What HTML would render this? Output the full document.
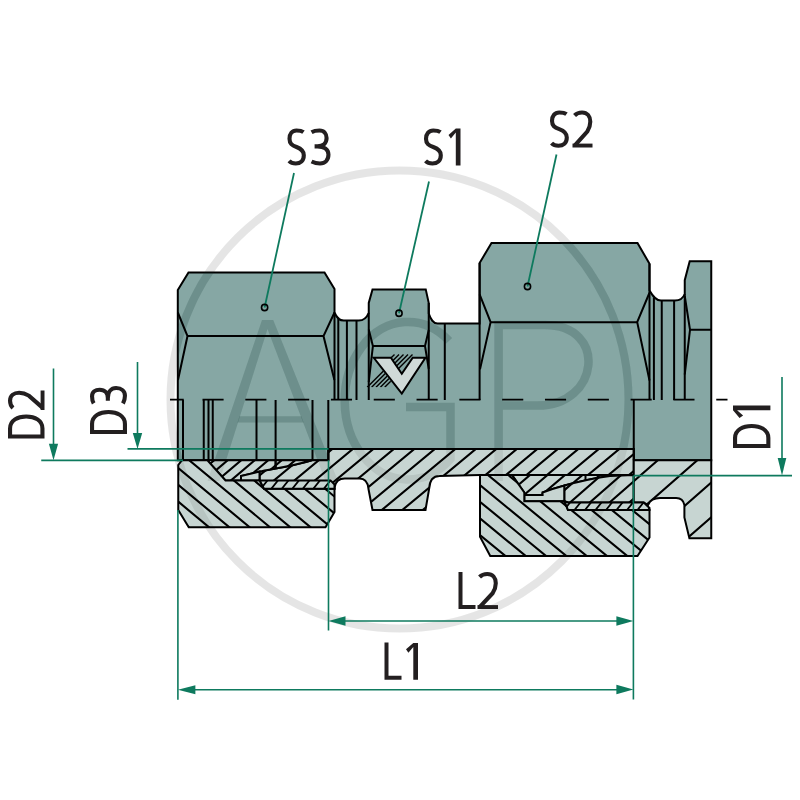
<!DOCTYPE html><html><head><meta charset="utf-8"><style>html,body{margin:0;padding:0;background:#fff;overflow:hidden;}svg{display:block}</style></head><body>
<svg width="800" height="800" viewBox="0 0 800 800">
<rect width="800" height="800" fill="#fff"/>
<path d="M177.8,460.2 L177.8,290 L188.5,272.5 L324.5,272.5 L334.5,289 L334.5,312.5 C337,318.5 339.5,320.6 343.75,320.6 L358.75,320.6 C363.5,320.6 366.5,318.5 368.75,312.9 L368.75,303 L372.5,289.4 L425.75,289.4 L428.75,303 L428.75,313.5 C431,320 433,323.5 437.5,323.5 L479.6,323.5 L479.6,263 L491.5,243 L637.5,243 L649.5,263.75 L649.5,290.5 C653,296.5 656,300.6 661,300.6 L675,300.6 C680,300.6 683,298.5 684.75,294 L684.75,280.2 L689.7,261.2 L711.25,261.2 L711.25,460.25 L633.75,460.25 L633.75,449 L328.5,449 L328.5,460.2 Z" fill="#86a7a4" stroke="#000" stroke-width="2.0" stroke-linejoin="miter"/>
<defs><clipPath id="tealclip"><path d="M177.8,460.2 L177.8,290 L188.5,272.5 L324.5,272.5 L334.5,289 L334.5,312.5 C337,318.5 339.5,320.6 343.75,320.6 L358.75,320.6 C363.5,320.6 366.5,318.5 368.75,312.9 L368.75,303 L372.5,289.4 L425.75,289.4 L428.75,303 L428.75,313.5 C431,320 433,323.5 437.5,323.5 L479.6,323.5 L479.6,263 L491.5,243 L637.5,243 L649.5,263.75 L649.5,290.5 C653,296.5 656,300.6 661,300.6 L675,300.6 C680,300.6 683,298.5 684.75,294 L684.75,280.2 L689.7,261.2 L711.25,261.2 L711.25,460.25 L633.75,460.25 L633.75,449 L328.5,449 L328.5,460.2 Z"/></clipPath></defs>
<g color="rgba(0,0,0,0.10)"><circle cx="399.5" cy="399.5" r="229" fill="none" stroke="currentColor" stroke-width="8"/><polygon fill="currentColor" points="262,320 273.2,320 338,481 325.5,481 267.5,329 219.5,481 207.5,481"/><polygon fill="currentColor" points="239.43,416.25 301.33,416.25 303.68,422.40 237.49,422.40"/><path fill="none" stroke="currentColor" stroke-width="8.5" d="M449,340.8 A63.25,78.75 0 1 0 450.5,459 L450.5,406.9 L406,406.9"/><path fill="none" stroke="currentColor" stroke-width="8.5" d="M498.6,481 L498.6,325 L545,325 C608,325 600,405.6 537.5,405.6 L498.6,405.6"/></g>
<g clip-path="url(#tealclip)" color="rgba(32,98,93,0.12)"><circle cx="399.5" cy="399.5" r="229" fill="none" stroke="currentColor" stroke-width="8"/><polygon fill="currentColor" points="262,320 273.2,320 338,481 325.5,481 267.5,329 219.5,481 207.5,481"/><polygon fill="currentColor" points="239.43,416.25 301.33,416.25 303.68,422.40 237.49,422.40"/><path fill="none" stroke="currentColor" stroke-width="8.5" d="M449,340.8 A63.25,78.75 0 1 0 450.5,459 L450.5,406.9 L406,406.9"/><path fill="none" stroke="currentColor" stroke-width="8.5" d="M498.6,481 L498.6,325 L545,325 C608,325 600,405.6 537.5,405.6 L498.6,405.6"/></g>
<clipPath id="c1"><path d="M259.5,471.6 C275,468.5 295,465.5 312,460.2 L328.5,460.2 L328.5,449 L633.75,449 L633.75,475 L480,475 L439.4,476.1 Q430,476.1 429.2,488.5 L425.5,510 L372.5,510 L368.4,488.5 Q367.5,478.4 359.4,478.4 L344.75,478.4 Q336,478.4 334.5,487.5 L334.5,488.75 L264,488.75 L259.7,480.4 Z"/></clipPath>
<path d="M259.5,471.6 C275,468.5 295,465.5 312,460.2 L328.5,460.2 L328.5,449 L633.75,449 L633.75,475 L480,475 L439.4,476.1 Q430,476.1 429.2,488.5 L425.5,510 L372.5,510 L368.4,488.5 Q367.5,478.4 359.4,478.4 L344.75,478.4 Q336,478.4 334.5,487.5 L334.5,488.75 L264,488.75 L259.7,480.4 Z" fill="#c7d5d2"/>
<g clip-path="url(#c1)" color="rgba(0,0,0,0.075)"><circle cx="399.5" cy="399.5" r="229" fill="none" stroke="currentColor" stroke-width="8"/><polygon fill="currentColor" points="262,320 273.2,320 338,481 325.5,481 267.5,329 219.5,481 207.5,481"/><polygon fill="currentColor" points="239.43,416.25 301.33,416.25 303.68,422.40 237.49,422.40"/><path fill="none" stroke="currentColor" stroke-width="8.5" d="M449,340.8 A63.25,78.75 0 1 0 450.5,459 L450.5,406.9 L406,406.9"/><path fill="none" stroke="currentColor" stroke-width="8.5" d="M498.6,481 L498.6,325 L545,325 C608,325 600,405.6 537.5,405.6 L498.6,405.6"/></g>
<path clip-path="url(#c1)" d="M118.54,150 L-604.35,750 M139.04,150 L-583.85,750 M159.54,150 L-563.35,750 M180.04,150 L-542.85,750 M200.54,150 L-522.35,750 M221.04,150 L-501.85,750 M241.54,150 L-481.35,750 M262.04,150 L-460.85,750 M282.54,150 L-440.35,750 M303.04,150 L-419.85,750 M323.54,150 L-399.35,750 M344.04,150 L-378.85,750 M364.54,150 L-358.35,750 M385.04,150 L-337.85,750 M405.54,150 L-317.35,750 M426.04,150 L-296.85,750 M446.54,150 L-276.35,750 M467.04,150 L-255.85,750 M487.54,150 L-235.35,750 M508.04,150 L-214.85,750 M528.54,150 L-194.35,750 M549.04,150 L-173.85,750 M569.54,150 L-153.35,750 M590.04,150 L-132.85,750 M610.54,150 L-112.35,750 M631.04,150 L-91.85,750 M651.54,150 L-71.35,750 M672.04,150 L-50.85,750 M692.54,150 L-30.35,750 M713.04,150 L-9.85,750 M733.54,150 L10.65,750 M754.04,150 L31.15,750 M774.54,150 L51.65,750 M795.04,150 L72.15,750 M815.54,150 L92.65,750 M836.04,150 L113.15,750 M856.54,150 L133.65,750 M877.04,150 L154.15,750 M897.54,150 L174.65,750 M918.04,150 L195.15,750 M938.54,150 L215.65,750 M959.04,150 L236.15,750 M979.54,150 L256.65,750 M1000.04,150 L277.15,750 M1020.54,150 L297.65,750 M1041.04,150 L318.15,750 M1061.54,150 L338.65,750 M1082.04,150 L359.15,750 M1102.54,150 L379.65,750 M1123.04,150 L400.15,750 M1143.54,150 L420.65,750 M1164.04,150 L441.15,750 M1184.54,150 L461.65,750 M1205.04,150 L482.15,750 M1225.54,150 L502.65,750 M1246.04,150 L523.15,750 M1266.54,150 L543.65,750 M1287.04,150 L564.15,750 M1307.54,150 L584.65,750 M1328.04,150 L605.15,750 M1348.54,150 L625.65,750 M1369.04,150 L646.15,750 M1389.54,150 L666.65,750 M1410.04,150 L687.15,750 M1430.54,150 L707.65,750 M1451.04,150 L728.15,750 M1471.54,150 L748.65,750 M1492.04,150 L769.15,750 M1512.54,150 L789.65,750" stroke="#000" stroke-width="2.1" fill="none"/>
<path d="M259.5,471.6 C275,468.5 295,465.5 312,460.2 L328.5,460.2 L328.5,449 L633.75,449 L633.75,475 L480,475 L439.4,476.1 Q430,476.1 429.2,488.5 L425.5,510 L372.5,510 L368.4,488.5 Q367.5,478.4 359.4,478.4 L344.75,478.4 Q336,478.4 334.5,487.5 L334.5,488.75 L264,488.75 L259.7,480.4 Z" fill="none" stroke="#000" stroke-width="2.0" stroke-linejoin="miter"/>
<clipPath id="c2"><path d="M207.2,460.2 L312,460.2 C295,465.5 275,468.5 259.5,471.6 L241,476 L241,480.4 L225.5,480.4 Z"/></clipPath>
<path d="M207.2,460.2 L312,460.2 C295,465.5 275,468.5 259.5,471.6 L241,476 L241,480.4 L225.5,480.4 Z" fill="#c7d5d2"/>
<g clip-path="url(#c2)" color="rgba(0,0,0,0.075)"><circle cx="399.5" cy="399.5" r="229" fill="none" stroke="currentColor" stroke-width="8"/><polygon fill="currentColor" points="262,320 273.2,320 338,481 325.5,481 267.5,329 219.5,481 207.5,481"/><polygon fill="currentColor" points="239.43,416.25 301.33,416.25 303.68,422.40 237.49,422.40"/><path fill="none" stroke="currentColor" stroke-width="8.5" d="M449,340.8 A63.25,78.75 0 1 0 450.5,459 L450.5,406.9 L406,406.9"/><path fill="none" stroke="currentColor" stroke-width="8.5" d="M498.6,481 L498.6,325 L545,325 C608,325 600,405.6 537.5,405.6 L498.6,405.6"/></g>
<path clip-path="url(#c2)" d="M106.69,150 L-599.19,750 M120.19,150 L-585.69,750 M133.69,150 L-572.19,750 M147.19,150 L-558.69,750 M160.69,150 L-545.19,750 M174.19,150 L-531.69,750 M187.69,150 L-518.19,750 M201.19,150 L-504.69,750 M214.69,150 L-491.19,750 M228.19,150 L-477.69,750 M241.69,150 L-464.19,750 M255.19,150 L-450.69,750 M268.69,150 L-437.19,750 M282.19,150 L-423.69,750 M295.69,150 L-410.19,750 M309.19,150 L-396.69,750 M322.69,150 L-383.19,750 M336.19,150 L-369.69,750 M349.69,150 L-356.19,750 M363.19,150 L-342.69,750 M376.69,150 L-329.19,750 M390.19,150 L-315.69,750 M403.69,150 L-302.19,750 M417.19,150 L-288.69,750 M430.69,150 L-275.19,750 M444.19,150 L-261.69,750 M457.69,150 L-248.19,750 M471.19,150 L-234.69,750 M484.69,150 L-221.19,750 M498.19,150 L-207.69,750 M511.69,150 L-194.19,750 M525.19,150 L-180.69,750 M538.69,150 L-167.19,750 M552.19,150 L-153.69,750 M565.69,150 L-140.19,750 M579.19,150 L-126.69,750 M592.69,150 L-113.19,750 M606.19,150 L-99.69,750 M619.69,150 L-86.19,750 M633.19,150 L-72.69,750 M646.69,150 L-59.19,750 M660.19,150 L-45.69,750 M673.69,150 L-32.19,750 M687.19,150 L-18.69,750 M700.69,150 L-5.19,750 M714.19,150 L8.31,750 M727.69,150 L21.81,750 M741.19,150 L35.31,750 M754.69,150 L48.81,750 M768.19,150 L62.31,750 M781.69,150 L75.81,750 M795.19,150 L89.31,750 M808.69,150 L102.81,750 M822.19,150 L116.31,750 M835.69,150 L129.81,750 M849.19,150 L143.31,750 M862.69,150 L156.81,750 M876.19,150 L170.31,750 M889.69,150 L183.81,750 M903.19,150 L197.31,750 M916.69,150 L210.81,750 M930.19,150 L224.31,750 M943.69,150 L237.81,750 M957.19,150 L251.31,750 M970.69,150 L264.81,750 M984.19,150 L278.31,750 M997.69,150 L291.81,750 M1011.19,150 L305.31,750 M1024.69,150 L318.81,750 M1038.19,150 L332.31,750 M1051.69,150 L345.81,750 M1065.19,150 L359.31,750 M1078.69,150 L372.81,750 M1092.19,150 L386.31,750 M1105.69,150 L399.81,750 M1119.19,150 L413.31,750 M1132.69,150 L426.81,750 M1146.19,150 L440.31,750 M1159.69,150 L453.81,750 M1173.19,150 L467.31,750 M1186.69,150 L480.81,750 M1200.19,150 L494.31,750 M1213.69,150 L507.81,750 M1227.19,150 L521.31,750 M1240.69,150 L534.81,750 M1254.19,150 L548.31,750 M1267.69,150 L561.81,750 M1281.19,150 L575.31,750 M1294.69,150 L588.81,750 M1308.19,150 L602.31,750 M1321.69,150 L615.81,750 M1335.19,150 L629.31,750 M1348.69,150 L642.81,750 M1362.19,150 L656.31,750 M1375.69,150 L669.81,750 M1389.19,150 L683.31,750" stroke="#000" stroke-width="2.1" fill="none"/>
<path d="M207.2,460.2 L312,460.2 C295,465.5 275,468.5 259.5,471.6 L241,476 L241,480.4 L225.5,480.4 Z" fill="none" stroke="#000" stroke-width="2.0" stroke-linejoin="miter"/>
<clipPath id="cl2"><path d="M241,476 L259.5,471.6 L259.5,480.4 L241,480.4 Z"/></clipPath><path d="M241,476 L259.5,471.6 L259.5,480.4 L241,480.4 Z" fill="#c7d5d2"/><g clip-path="url(#cl2)" color="rgba(0,0,0,0.075)"><circle cx="399.5" cy="399.5" r="229" fill="none" stroke="currentColor" stroke-width="8"/><polygon fill="currentColor" points="262,320 273.2,320 338,481 325.5,481 267.5,329 219.5,481 207.5,481"/><polygon fill="currentColor" points="239.43,416.25 301.33,416.25 303.68,422.40 237.49,422.40"/><path fill="none" stroke="currentColor" stroke-width="8.5" d="M449,340.8 A63.25,78.75 0 1 0 450.5,459 L450.5,406.9 L406,406.9"/><path fill="none" stroke="currentColor" stroke-width="8.5" d="M498.6,481 L498.6,325 L545,325 C608,325 600,405.6 537.5,405.6 L498.6,405.6"/></g><path d="M241,476 L259.5,471.6 L259.5,480.4 L241,480.4 Z" fill="none" stroke="#000" stroke-width="2.0"/>
<clipPath id="c3"><path d="M182,460.2 L178.25,465 L178.25,510 L188.75,527.2 L325.5,527.2 L334.5,512 L334.5,488.75 L264,488.75 L259.7,480.4 L225.5,480.4 L207.2,460.2 Z"/></clipPath>
<path d="M182,460.2 L178.25,465 L178.25,510 L188.75,527.2 L325.5,527.2 L334.5,512 L334.5,488.75 L264,488.75 L259.7,480.4 L225.5,480.4 L207.2,460.2 Z" fill="#c7d5d2"/>
<g clip-path="url(#c3)" color="rgba(0,0,0,0.075)"><circle cx="399.5" cy="399.5" r="229" fill="none" stroke="currentColor" stroke-width="8"/><polygon fill="currentColor" points="262,320 273.2,320 338,481 325.5,481 267.5,329 219.5,481 207.5,481"/><polygon fill="currentColor" points="239.43,416.25 301.33,416.25 303.68,422.40 237.49,422.40"/><path fill="none" stroke="currentColor" stroke-width="8.5" d="M449,340.8 A63.25,78.75 0 1 0 450.5,459 L450.5,406.9 L406,406.9"/><path fill="none" stroke="currentColor" stroke-width="8.5" d="M498.6,481 L498.6,325 L545,325 C608,325 600,405.6 537.5,405.6 L498.6,405.6"/></g>
<path clip-path="url(#c3)" d="M-610.86,150 L112.03,750 M-590.56,150 L132.33,750 M-570.26,150 L152.63,750 M-549.96,150 L172.93,750 M-529.66,150 L193.23,750 M-509.36,150 L213.53,750 M-489.06,150 L233.83,750 M-468.76,150 L254.13,750 M-448.46,150 L274.43,750 M-428.16,150 L294.73,750 M-407.86,150 L315.03,750 M-387.56,150 L335.33,750 M-367.26,150 L355.63,750 M-346.96,150 L375.93,750 M-326.66,150 L396.23,750 M-306.36,150 L416.53,750 M-286.06,150 L436.83,750 M-265.76,150 L457.13,750 M-245.46,150 L477.43,750 M-225.16,150 L497.73,750 M-204.86,150 L518.03,750 M-184.56,150 L538.33,750 M-164.26,150 L558.63,750 M-143.96,150 L578.93,750 M-123.66,150 L599.23,750 M-103.36,150 L619.53,750 M-83.06,150 L639.83,750 M-62.76,150 L660.13,750 M-42.46,150 L680.43,750 M-22.16,150 L700.73,750 M-1.86,150 L721.03,750 M18.44,150 L741.33,750 M38.74,150 L761.63,750 M59.04,150 L781.93,750 M79.34,150 L802.23,750 M99.64,150 L822.53,750 M119.94,150 L842.83,750 M140.24,150 L863.13,750 M160.54,150 L883.43,750 M180.84,150 L903.73,750 M201.14,150 L924.03,750 M221.44,150 L944.33,750 M241.74,150 L964.63,750 M262.04,150 L984.93,750 M282.34,150 L1005.23,750 M302.64,150 L1025.53,750 M322.94,150 L1045.83,750 M343.24,150 L1066.13,750 M363.54,150 L1086.43,750 M383.84,150 L1106.73,750 M404.14,150 L1127.03,750 M424.44,150 L1147.33,750 M444.74,150 L1167.63,750 M465.04,150 L1187.93,750 M485.34,150 L1208.23,750 M505.64,150 L1228.53,750 M525.94,150 L1248.83,750 M546.24,150 L1269.13,750 M566.54,150 L1289.43,750 M586.84,150 L1309.73,750 M607.14,150 L1330.03,750 M627.44,150 L1350.33,750 M647.74,150 L1370.63,750 M668.04,150 L1390.93,750 M688.34,150 L1411.23,750 M708.64,150 L1431.53,750 M728.94,150 L1451.83,750 M749.24,150 L1472.13,750 M769.54,150 L1492.43,750 M789.84,150 L1512.73,750" stroke="#000" stroke-width="2.1" fill="none"/>
<path d="M182,460.2 L178.25,465 L178.25,510 L188.75,527.2 L325.5,527.2 L334.5,512 L334.5,488.75 L264,488.75 L259.7,480.4 L225.5,480.4 L207.2,460.2 Z" fill="none" stroke="#000" stroke-width="2.0" stroke-linejoin="miter"/>
<clipPath id="c4"><path d="M259.7,480.4 L330.5,480.4 L334.5,484.5 L334.5,488.75 L264,488.75 Z"/></clipPath>
<path d="M259.7,480.4 L330.5,480.4 L334.5,484.5 L334.5,488.75 L264,488.75 Z" fill="#c7d5d2"/>
<g clip-path="url(#c4)" color="rgba(0,0,0,0.075)"><circle cx="399.5" cy="399.5" r="229" fill="none" stroke="currentColor" stroke-width="8"/><polygon fill="currentColor" points="262,320 273.2,320 338,481 325.5,481 267.5,329 219.5,481 207.5,481"/><polygon fill="currentColor" points="239.43,416.25 301.33,416.25 303.68,422.40 237.49,422.40"/><path fill="none" stroke="currentColor" stroke-width="8.5" d="M449,340.8 A63.25,78.75 0 1 0 450.5,459 L450.5,406.9 L406,406.9"/><path fill="none" stroke="currentColor" stroke-width="8.5" d="M498.6,481 L498.6,325 L545,325 C608,325 600,405.6 537.5,405.6 L498.6,405.6"/></g>
<path clip-path="url(#c4)" d="M101.32,150 L-378.68,750 M111.82,150 L-368.18,750 M122.32,150 L-357.68,750 M132.82,150 L-347.18,750 M143.32,150 L-336.68,750 M153.82,150 L-326.18,750 M164.32,150 L-315.68,750 M174.82,150 L-305.18,750 M185.32,150 L-294.68,750 M195.82,150 L-284.18,750 M206.32,150 L-273.68,750 M216.82,150 L-263.18,750 M227.32,150 L-252.68,750 M237.82,150 L-242.18,750 M248.32,150 L-231.68,750 M258.82,150 L-221.18,750 M269.32,150 L-210.68,750 M279.82,150 L-200.18,750 M290.32,150 L-189.68,750 M300.82,150 L-179.18,750 M311.32,150 L-168.68,750 M321.82,150 L-158.18,750 M332.32,150 L-147.68,750 M342.82,150 L-137.18,750 M353.32,150 L-126.68,750 M363.82,150 L-116.18,750 M374.32,150 L-105.68,750 M384.82,150 L-95.18,750 M395.32,150 L-84.68,750 M405.82,150 L-74.18,750 M416.32,150 L-63.68,750 M426.82,150 L-53.18,750 M437.32,150 L-42.68,750 M447.82,150 L-32.18,750 M458.32,150 L-21.68,750 M468.82,150 L-11.18,750 M479.32,150 L-0.68,750 M489.82,150 L9.82,750 M500.32,150 L20.32,750 M510.82,150 L30.82,750 M521.32,150 L41.32,750 M531.82,150 L51.82,750 M542.32,150 L62.32,750 M552.82,150 L72.82,750 M563.32,150 L83.32,750 M573.82,150 L93.82,750 M584.32,150 L104.32,750 M594.82,150 L114.82,750 M605.32,150 L125.32,750 M615.82,150 L135.82,750 M626.32,150 L146.32,750 M636.82,150 L156.82,750 M647.32,150 L167.32,750 M657.82,150 L177.82,750 M668.32,150 L188.32,750 M678.82,150 L198.82,750 M689.32,150 L209.32,750 M699.82,150 L219.82,750 M710.32,150 L230.32,750 M720.82,150 L240.82,750 M731.32,150 L251.32,750 M741.82,150 L261.82,750 M752.32,150 L272.32,750 M762.82,150 L282.82,750 M773.32,150 L293.32,750 M783.82,150 L303.82,750 M794.32,150 L314.32,750 M804.82,150 L324.82,750 M815.32,150 L335.32,750 M825.82,150 L345.82,750 M836.32,150 L356.32,750 M846.82,150 L366.82,750 M857.32,150 L377.32,750 M867.82,150 L387.82,750 M878.32,150 L398.32,750 M888.82,150 L408.82,750 M899.32,150 L419.32,750 M909.82,150 L429.82,750 M920.32,150 L440.32,750 M930.82,150 L450.82,750 M941.32,150 L461.32,750 M951.82,150 L471.82,750 M962.32,150 L482.32,750 M972.82,150 L492.82,750 M983.32,150 L503.32,750 M993.82,150 L513.82,750 M1004.32,150 L524.32,750 M1014.82,150 L534.82,750 M1025.32,150 L545.32,750 M1035.82,150 L555.82,750 M1046.32,150 L566.32,750 M1056.82,150 L576.82,750 M1067.32,150 L587.32,750 M1077.82,150 L597.82,750 M1088.32,150 L608.32,750 M1098.82,150 L618.82,750 M1109.32,150 L629.32,750 M1119.82,150 L639.82,750 M1130.32,150 L650.32,750 M1140.82,150 L660.82,750" stroke="#000" stroke-width="1.8" fill="none"/>
<path d="M259.7,480.4 L330.5,480.4 L334.5,484.5 L334.5,488.75 L264,488.75 Z" fill="none" stroke="#000" stroke-width="2.0" stroke-linejoin="miter"/>
<clipPath id="c5"><path d="M512,475 L633.75,475 L610,475.9 C595,478 580,481 564.5,485.5 C555,488 548,490.5 542.6,492.5 L542.6,495.1 L524.3,495.1 L524.3,492.5 Z"/></clipPath>
<path d="M512,475 L633.75,475 L610,475.9 C595,478 580,481 564.5,485.5 C555,488 548,490.5 542.6,492.5 L542.6,495.1 L524.3,495.1 L524.3,492.5 Z" fill="#c7d5d2"/>
<g clip-path="url(#c5)" color="rgba(0,0,0,0.075)"><circle cx="399.5" cy="399.5" r="229" fill="none" stroke="currentColor" stroke-width="8"/><polygon fill="currentColor" points="262,320 273.2,320 338,481 325.5,481 267.5,329 219.5,481 207.5,481"/><polygon fill="currentColor" points="239.43,416.25 301.33,416.25 303.68,422.40 237.49,422.40"/><path fill="none" stroke="currentColor" stroke-width="8.5" d="M449,340.8 A63.25,78.75 0 1 0 450.5,459 L450.5,406.9 L406,406.9"/><path fill="none" stroke="currentColor" stroke-width="8.5" d="M498.6,481 L498.6,325 L545,325 C608,325 600,405.6 537.5,405.6 L498.6,405.6"/></g>
<path clip-path="url(#c5)" d="M107.35,150 L-598.53,750 M124.85,150 L-581.03,750 M142.35,150 L-563.53,750 M159.85,150 L-546.03,750 M177.35,150 L-528.53,750 M194.85,150 L-511.03,750 M212.35,150 L-493.53,750 M229.85,150 L-476.03,750 M247.35,150 L-458.53,750 M264.85,150 L-441.03,750 M282.35,150 L-423.53,750 M299.85,150 L-406.03,750 M317.35,150 L-388.53,750 M334.85,150 L-371.03,750 M352.35,150 L-353.53,750 M369.85,150 L-336.03,750 M387.35,150 L-318.53,750 M404.85,150 L-301.03,750 M422.35,150 L-283.53,750 M439.85,150 L-266.03,750 M457.35,150 L-248.53,750 M474.85,150 L-231.03,750 M492.35,150 L-213.53,750 M509.85,150 L-196.03,750 M527.35,150 L-178.53,750 M544.85,150 L-161.03,750 M562.35,150 L-143.53,750 M579.85,150 L-126.03,750 M597.35,150 L-108.53,750 M614.85,150 L-91.03,750 M632.35,150 L-73.53,750 M649.85,150 L-56.03,750 M667.35,150 L-38.53,750 M684.85,150 L-21.03,750 M702.35,150 L-3.53,750 M719.85,150 L13.97,750 M737.35,150 L31.47,750 M754.85,150 L48.97,750 M772.35,150 L66.47,750 M789.85,150 L83.97,750 M807.35,150 L101.47,750 M824.85,150 L118.97,750 M842.35,150 L136.47,750 M859.85,150 L153.97,750 M877.35,150 L171.47,750 M894.85,150 L188.97,750 M912.35,150 L206.47,750 M929.85,150 L223.97,750 M947.35,150 L241.47,750 M964.85,150 L258.97,750 M982.35,150 L276.47,750 M999.85,150 L293.97,750 M1017.35,150 L311.47,750 M1034.85,150 L328.97,750 M1052.35,150 L346.47,750 M1069.85,150 L363.97,750 M1087.35,150 L381.47,750 M1104.85,150 L398.97,750 M1122.35,150 L416.47,750 M1139.85,150 L433.97,750 M1157.35,150 L451.47,750 M1174.85,150 L468.97,750 M1192.35,150 L486.47,750 M1209.85,150 L503.97,750 M1227.35,150 L521.47,750 M1244.85,150 L538.97,750 M1262.35,150 L556.47,750 M1279.85,150 L573.97,750 M1297.35,150 L591.47,750 M1314.85,150 L608.97,750 M1332.35,150 L626.47,750 M1349.85,150 L643.97,750 M1367.35,150 L661.47,750 M1384.85,150 L678.97,750 M1402.35,150 L696.47,750 M1419.85,150 L713.97,750 M1437.35,150 L731.47,750 M1454.85,150 L748.97,750 M1472.35,150 L766.47,750 M1489.85,150 L783.97,750" stroke="#000" stroke-width="2.1" fill="none"/>
<path d="M512,475 L633.75,475 L610,475.9 C595,478 580,481 564.5,485.5 C555,488 548,490.5 542.6,492.5 L542.6,495.1 L524.3,495.1 L524.3,492.5 Z" fill="none" stroke="#000" stroke-width="2.0" stroke-linejoin="miter"/>
<clipPath id="cr2"><path d="M524.3,495.1 L542.6,495.1 L542.6,492.5 C548,490.5 555,488 564.5,485.5 L564.5,501.3 L524.3,501.3 Z"/></clipPath><path d="M524.3,495.1 L542.6,495.1 L542.6,492.5 C548,490.5 555,488 564.5,485.5 L564.5,501.3 L524.3,501.3 Z" fill="#c7d5d2"/><g clip-path="url(#cr2)" color="rgba(0,0,0,0.075)"><circle cx="399.5" cy="399.5" r="229" fill="none" stroke="currentColor" stroke-width="8"/><polygon fill="currentColor" points="262,320 273.2,320 338,481 325.5,481 267.5,329 219.5,481 207.5,481"/><polygon fill="currentColor" points="239.43,416.25 301.33,416.25 303.68,422.40 237.49,422.40"/><path fill="none" stroke="currentColor" stroke-width="8.5" d="M449,340.8 A63.25,78.75 0 1 0 450.5,459 L450.5,406.9 L406,406.9"/><path fill="none" stroke="currentColor" stroke-width="8.5" d="M498.6,481 L498.6,325 L545,325 C608,325 600,405.6 537.5,405.6 L498.6,405.6"/></g><path d="M524.3,495.1 L542.6,495.1 L542.6,492.5 C548,490.5 555,488 564.5,485.5 L564.5,501.3 L524.3,501.3 Z" fill="none" stroke="#000" stroke-width="2.0"/>
<clipPath id="c6"><path d="M564.5,485.5 C580,481 595,478 610,475.9 L633.75,475 L633.75,502.5 L568,502.5 L564.5,501.3 Z"/></clipPath>
<path d="M564.5,485.5 C580,481 595,478 610,475.9 L633.75,475 L633.75,502.5 L568,502.5 L564.5,501.3 Z" fill="#c7d5d2"/>
<g clip-path="url(#c6)" color="rgba(0,0,0,0.075)"><circle cx="399.5" cy="399.5" r="229" fill="none" stroke="currentColor" stroke-width="8"/><polygon fill="currentColor" points="262,320 273.2,320 338,481 325.5,481 267.5,329 219.5,481 207.5,481"/><polygon fill="currentColor" points="239.43,416.25 301.33,416.25 303.68,422.40 237.49,422.40"/><path fill="none" stroke="currentColor" stroke-width="8.5" d="M449,340.8 A63.25,78.75 0 1 0 450.5,459 L450.5,406.9 L406,406.9"/><path fill="none" stroke="currentColor" stroke-width="8.5" d="M498.6,481 L498.6,325 L545,325 C608,325 600,405.6 537.5,405.6 L498.6,405.6"/></g>
<path clip-path="url(#c6)" d="M103.89,150 L-581.83,750 M123.64,150 L-562.08,750 M143.39,150 L-542.33,750 M163.14,150 L-522.58,750 M182.89,150 L-502.83,750 M202.64,150 L-483.08,750 M222.39,150 L-463.33,750 M242.14,150 L-443.58,750 M261.89,150 L-423.83,750 M281.64,150 L-404.08,750 M301.39,150 L-384.33,750 M321.14,150 L-364.58,750 M340.89,150 L-344.83,750 M360.64,150 L-325.08,750 M380.39,150 L-305.33,750 M400.14,150 L-285.58,750 M419.89,150 L-265.83,750 M439.64,150 L-246.08,750 M459.39,150 L-226.33,750 M479.14,150 L-206.58,750 M498.89,150 L-186.83,750 M518.64,150 L-167.08,750 M538.39,150 L-147.33,750 M558.14,150 L-127.58,750 M577.89,150 L-107.83,750 M597.64,150 L-88.08,750 M617.39,150 L-68.33,750 M637.14,150 L-48.58,750 M656.89,150 L-28.83,750 M676.64,150 L-9.08,750 M696.39,150 L10.67,750 M716.14,150 L30.42,750 M735.89,150 L50.17,750 M755.64,150 L69.92,750 M775.39,150 L89.67,750 M795.14,150 L109.42,750 M814.89,150 L129.17,750 M834.64,150 L148.92,750 M854.39,150 L168.67,750 M874.14,150 L188.42,750 M893.89,150 L208.17,750 M913.64,150 L227.92,750 M933.39,150 L247.67,750 M953.14,150 L267.42,750 M972.89,150 L287.17,750 M992.64,150 L306.92,750 M1012.39,150 L326.67,750 M1032.14,150 L346.42,750 M1051.89,150 L366.17,750 M1071.64,150 L385.92,750 M1091.39,150 L405.67,750 M1111.14,150 L425.42,750 M1130.89,150 L445.17,750 M1150.64,150 L464.92,750 M1170.39,150 L484.67,750 M1190.14,150 L504.42,750 M1209.89,150 L524.17,750 M1229.64,150 L543.92,750 M1249.39,150 L563.67,750 M1269.14,150 L583.42,750 M1288.89,150 L603.17,750 M1308.64,150 L622.92,750 M1328.39,150 L642.67,750 M1348.14,150 L662.42,750 M1367.89,150 L682.17,750 M1387.64,150 L701.92,750 M1407.39,150 L721.67,750 M1427.14,150 L741.42,750 M1446.89,150 L761.17,750 M1466.64,150 L780.92,750" stroke="#000" stroke-width="2.1" fill="none"/>
<path d="M564.5,485.5 C580,481 595,478 610,475.9 L633.75,475 L633.75,502.5 L568,502.5 L564.5,501.3 Z" fill="none" stroke="#000" stroke-width="2.0" stroke-linejoin="miter"/>
<clipPath id="c7"><path d="M633.75,460.25 L711.25,460.25 L711.25,538.25 L689.4,538.25 L684.4,517.5 L684.4,505 Q683,498 676.25,498 L660,498 Q651,498 648,505 L643.75,502.5 L633.75,502.5 Z"/></clipPath>
<path d="M633.75,460.25 L711.25,460.25 L711.25,538.25 L689.4,538.25 L684.4,517.5 L684.4,505 Q683,498 676.25,498 L660,498 Q651,498 648,505 L643.75,502.5 L633.75,502.5 Z" fill="#c7d5d2"/>
<g clip-path="url(#c7)" color="rgba(0,0,0,0.075)"><circle cx="399.5" cy="399.5" r="229" fill="none" stroke="currentColor" stroke-width="8"/><polygon fill="currentColor" points="262,320 273.2,320 338,481 325.5,481 267.5,329 219.5,481 207.5,481"/><polygon fill="currentColor" points="239.43,416.25 301.33,416.25 303.68,422.40 237.49,422.40"/><path fill="none" stroke="currentColor" stroke-width="8.5" d="M449,340.8 A63.25,78.75 0 1 0 450.5,459 L450.5,406.9 L406,406.9"/><path fill="none" stroke="currentColor" stroke-width="8.5" d="M498.6,481 L498.6,325 L545,325 C608,325 600,405.6 537.5,405.6 L498.6,405.6"/></g>
<path clip-path="url(#c7)" d="M103.89,150 L-581.83,750 M143.39,150 L-542.33,750 M182.89,150 L-502.83,750 M222.39,150 L-463.33,750 M261.89,150 L-423.83,750 M301.39,150 L-384.33,750 M340.89,150 L-344.83,750 M380.39,150 L-305.33,750 M419.89,150 L-265.83,750 M459.39,150 L-226.33,750 M498.89,150 L-186.83,750 M538.39,150 L-147.33,750 M577.89,150 L-107.83,750 M617.39,150 L-68.33,750 M656.89,150 L-28.83,750 M696.39,150 L10.67,750 M735.89,150 L50.17,750 M775.39,150 L89.67,750 M814.89,150 L129.17,750 M854.39,150 L168.67,750 M893.89,150 L208.17,750 M933.39,150 L247.67,750 M972.89,150 L287.17,750 M1012.39,150 L326.67,750 M1051.89,150 L366.17,750 M1091.39,150 L405.67,750 M1130.89,150 L445.17,750 M1170.39,150 L484.67,750 M1209.89,150 L524.17,750 M1249.39,150 L563.67,750 M1288.89,150 L603.17,750 M1328.39,150 L642.67,750 M1367.89,150 L682.17,750 M1407.39,150 L721.67,750 M1446.89,150 L761.17,750" stroke="#000" stroke-width="2.1" fill="none"/>
<path d="M633.75,460.25 L711.25,460.25 L711.25,538.25 L689.4,538.25 L684.4,517.5 L684.4,505 Q683,498 676.25,498 L660,498 Q651,498 648,505 L643.75,502.5 L633.75,502.5 Z" fill="none" stroke="#000" stroke-width="2.0" stroke-linejoin="miter"/>
<clipPath id="c8"><path d="M480,475 L480,536.8 L490.25,556 L637.5,556 L649.5,537.5 L649.5,510 L568,510 L564.5,501.3 L524.3,501.3 L524.3,492.5 L512,475 Z"/></clipPath>
<path d="M480,475 L480,536.8 L490.25,556 L637.5,556 L649.5,537.5 L649.5,510 L568,510 L564.5,501.3 L524.3,501.3 L524.3,492.5 L512,475 Z" fill="#c7d5d2"/>
<g clip-path="url(#c8)" color="rgba(0,0,0,0.075)"><circle cx="399.5" cy="399.5" r="229" fill="none" stroke="currentColor" stroke-width="8"/><polygon fill="currentColor" points="262,320 273.2,320 338,481 325.5,481 267.5,329 219.5,481 207.5,481"/><polygon fill="currentColor" points="239.43,416.25 301.33,416.25 303.68,422.40 237.49,422.40"/><path fill="none" stroke="currentColor" stroke-width="8.5" d="M449,340.8 A63.25,78.75 0 1 0 450.5,459 L450.5,406.9 L406,406.9"/><path fill="none" stroke="currentColor" stroke-width="8.5" d="M498.6,481 L498.6,325 L545,325 C608,325 600,405.6 537.5,405.6 L498.6,405.6"/></g>
<path clip-path="url(#c8)" d="M-618.92,150 L112.79,750 M-598.62,150 L133.09,750 M-578.32,150 L153.39,750 M-558.02,150 L173.69,750 M-537.72,150 L193.99,750 M-517.42,150 L214.29,750 M-497.12,150 L234.59,750 M-476.82,150 L254.89,750 M-456.52,150 L275.19,750 M-436.22,150 L295.49,750 M-415.92,150 L315.79,750 M-395.62,150 L336.09,750 M-375.32,150 L356.39,750 M-355.02,150 L376.69,750 M-334.72,150 L396.99,750 M-314.42,150 L417.29,750 M-294.12,150 L437.59,750 M-273.82,150 L457.89,750 M-253.52,150 L478.19,750 M-233.22,150 L498.49,750 M-212.92,150 L518.79,750 M-192.62,150 L539.09,750 M-172.32,150 L559.39,750 M-152.02,150 L579.69,750 M-131.72,150 L599.99,750 M-111.42,150 L620.29,750 M-91.12,150 L640.59,750 M-70.82,150 L660.89,750 M-50.52,150 L681.19,750 M-30.22,150 L701.49,750 M-9.92,150 L721.79,750 M10.38,150 L742.09,750 M30.68,150 L762.39,750 M50.98,150 L782.69,750 M71.28,150 L802.99,750 M91.58,150 L823.29,750 M111.88,150 L843.59,750 M132.18,150 L863.89,750 M152.48,150 L884.19,750 M172.78,150 L904.49,750 M193.08,150 L924.79,750 M213.38,150 L945.09,750 M233.68,150 L965.39,750 M253.98,150 L985.69,750 M274.28,150 L1005.99,750 M294.58,150 L1026.29,750 M314.88,150 L1046.59,750 M335.18,150 L1066.89,750 M355.48,150 L1087.19,750 M375.78,150 L1107.49,750 M396.08,150 L1127.79,750 M416.38,150 L1148.09,750 M436.68,150 L1168.39,750 M456.98,150 L1188.69,750 M477.28,150 L1208.99,750 M497.58,150 L1229.29,750 M517.88,150 L1249.59,750 M538.18,150 L1269.89,750 M558.48,150 L1290.19,750 M578.78,150 L1310.49,750 M599.08,150 L1330.79,750 M619.38,150 L1351.09,750 M639.68,150 L1371.39,750 M659.98,150 L1391.69,750 M680.28,150 L1411.99,750 M700.58,150 L1432.29,750 M720.88,150 L1452.59,750 M741.18,150 L1472.89,750 M761.48,150 L1493.19,750 M781.78,150 L1513.49,750" stroke="#000" stroke-width="2.1" fill="none"/>
<path d="M480,475 L480,536.8 L490.25,556 L637.5,556 L649.5,537.5 L649.5,510 L568,510 L564.5,501.3 L524.3,501.3 L524.3,492.5 L512,475 Z" fill="none" stroke="#000" stroke-width="2.0" stroke-linejoin="miter"/>
<clipPath id="c9"><path d="M568,502.5 L643.75,502.5 L649.5,508 L649.5,510 L568,510 L564.5,501.3 Z"/></clipPath>
<path d="M568,502.5 L643.75,502.5 L649.5,508 L649.5,510 L568,510 L564.5,501.3 Z" fill="#c7d5d2"/>
<g clip-path="url(#c9)" color="rgba(0,0,0,0.075)"><circle cx="399.5" cy="399.5" r="229" fill="none" stroke="currentColor" stroke-width="8"/><polygon fill="currentColor" points="262,320 273.2,320 338,481 325.5,481 267.5,329 219.5,481 207.5,481"/><polygon fill="currentColor" points="239.43,416.25 301.33,416.25 303.68,422.40 237.49,422.40"/><path fill="none" stroke="currentColor" stroke-width="8.5" d="M449,340.8 A63.25,78.75 0 1 0 450.5,459 L450.5,406.9 L406,406.9"/><path fill="none" stroke="currentColor" stroke-width="8.5" d="M498.6,481 L498.6,325 L545,325 C608,325 600,405.6 537.5,405.6 L498.6,405.6"/></g>
<path clip-path="url(#c9)" d="M222.00,150 L-258.00,750 M232.50,150 L-247.50,750 M243.00,150 L-237.00,750 M253.50,150 L-226.50,750 M264.00,150 L-216.00,750 M274.50,150 L-205.50,750 M285.00,150 L-195.00,750 M295.50,150 L-184.50,750 M306.00,150 L-174.00,750 M316.50,150 L-163.50,750 M327.00,150 L-153.00,750 M337.50,150 L-142.50,750 M348.00,150 L-132.00,750 M358.50,150 L-121.50,750 M369.00,150 L-111.00,750 M379.50,150 L-100.50,750 M390.00,150 L-90.00,750 M400.50,150 L-79.50,750 M411.00,150 L-69.00,750 M421.50,150 L-58.50,750 M432.00,150 L-48.00,750 M442.50,150 L-37.50,750 M453.00,150 L-27.00,750 M463.50,150 L-16.50,750 M474.00,150 L-6.00,750 M484.50,150 L4.50,750 M495.00,150 L15.00,750 M505.50,150 L25.50,750 M516.00,150 L36.00,750 M526.50,150 L46.50,750 M537.00,150 L57.00,750 M547.50,150 L67.50,750 M558.00,150 L78.00,750 M568.50,150 L88.50,750 M579.00,150 L99.00,750 M589.50,150 L109.50,750 M600.00,150 L120.00,750 M610.50,150 L130.50,750 M621.00,150 L141.00,750 M631.50,150 L151.50,750 M642.00,150 L162.00,750 M652.50,150 L172.50,750 M663.00,150 L183.00,750 M673.50,150 L193.50,750 M684.00,150 L204.00,750 M694.50,150 L214.50,750 M705.00,150 L225.00,750 M715.50,150 L235.50,750 M726.00,150 L246.00,750 M736.50,150 L256.50,750 M747.00,150 L267.00,750 M757.50,150 L277.50,750 M768.00,150 L288.00,750 M778.50,150 L298.50,750 M789.00,150 L309.00,750 M799.50,150 L319.50,750 M810.00,150 L330.00,750 M820.50,150 L340.50,750 M831.00,150 L351.00,750 M841.50,150 L361.50,750 M852.00,150 L372.00,750 M862.50,150 L382.50,750 M873.00,150 L393.00,750 M883.50,150 L403.50,750 M894.00,150 L414.00,750 M904.50,150 L424.50,750 M915.00,150 L435.00,750 M925.50,150 L445.50,750 M936.00,150 L456.00,750 M946.50,150 L466.50,750 M957.00,150 L477.00,750 M967.50,150 L487.50,750 M978.00,150 L498.00,750 M988.50,150 L508.50,750 M999.00,150 L519.00,750 M1009.50,150 L529.50,750 M1020.00,150 L540.00,750 M1030.50,150 L550.50,750 M1041.00,150 L561.00,750 M1051.50,150 L571.50,750 M1062.00,150 L582.00,750 M1072.50,150 L592.50,750 M1083.00,150 L603.00,750 M1093.50,150 L613.50,750 M1104.00,150 L624.00,750 M1114.50,150 L634.50,750 M1125.00,150 L645.00,750 M1135.50,150 L655.50,750 M1146.00,150 L666.00,750 M1156.50,150 L676.50,750 M1167.00,150 L687.00,750 M1177.50,150 L697.50,750 M1188.00,150 L708.00,750 M1198.50,150 L718.50,750 M1209.00,150 L729.00,750 M1219.50,150 L739.50,750 M1230.00,150 L750.00,750 M1240.50,150 L760.50,750 M1251.00,150 L771.00,750 M1261.50,150 L781.50,750 M1272.00,150 L792.00,750" stroke="#000" stroke-width="1.8" fill="none"/>
<path d="M568,502.5 L643.75,502.5 L649.5,508 L649.5,510 L568,510 L564.5,501.3 Z" fill="none" stroke="#000" stroke-width="2.0" stroke-linejoin="miter"/>
<polyline points="187.50,336.00 323.50,336.00" fill="none" stroke="#000" stroke-width="2.0" stroke-linejoin="miter"/>
<polyline points="177.80,312.50 187.50,336.00 178.00,380.00" fill="none" stroke="#000" stroke-width="2.0" stroke-linejoin="miter"/>
<polyline points="334.50,312.50 323.50,336.00 334.40,380.00" fill="none" stroke="#000" stroke-width="2.0" stroke-linejoin="miter"/>
<polyline points="183.00,400.00 183.00,460.20" fill="none" stroke="#000" stroke-width="2.0" stroke-linejoin="miter"/>
<polyline points="203.75,400.00 203.75,460.20" fill="none" stroke="#000" stroke-width="2.0" stroke-linejoin="miter"/>
<polyline points="208.50,400.00 208.50,460.20" fill="none" stroke="#000" stroke-width="2.0" stroke-linejoin="miter"/>
<polyline points="212.75,400.00 212.75,460.20" fill="none" stroke="#000" stroke-width="2.0" stroke-linejoin="miter"/>
<polyline points="256.50,400.00 256.50,460.20" fill="none" stroke="#000" stroke-width="2.0" stroke-linejoin="miter"/>
<polyline points="312.50,400.00 312.50,460.20" fill="none" stroke="#000" stroke-width="2.0" stroke-linejoin="miter"/>
<polyline points="328.30,400.00 328.30,460.20" fill="none" stroke="#000" stroke-width="2.0" stroke-linejoin="miter"/>
<polyline points="275.60,400.00 275.60,469.00" fill="none" stroke="#000" stroke-width="2.0" stroke-linejoin="miter"/>
<polyline points="334.50,312.50 334.50,400.00" fill="none" stroke="#000" stroke-width="2.0" stroke-linejoin="miter"/>
<polyline points="338.30,317.50 338.30,400.00" fill="none" stroke="#000" stroke-width="2.0" stroke-linejoin="miter"/>
<polyline points="346.90,320.60 346.90,400.00" fill="none" stroke="#000" stroke-width="2.0" stroke-linejoin="miter"/>
<polyline points="356.50,320.60 356.50,400.00" fill="none" stroke="#000" stroke-width="2.0" stroke-linejoin="miter"/>
<polyline points="368.75,312.90 368.75,400.00" fill="none" stroke="#000" stroke-width="2.0" stroke-linejoin="miter"/>
<polyline points="372.90,346.00 425.00,346.00" fill="none" stroke="#000" stroke-width="2.0" stroke-linejoin="miter"/>
<polyline points="368.75,329.40 372.90,346.00 368.75,382.00" fill="none" stroke="#000" stroke-width="2.0" stroke-linejoin="miter"/>
<polyline points="428.75,330.00 425.00,346.00 428.75,369.00" fill="none" stroke="#000" stroke-width="2.0" stroke-linejoin="miter"/>
<polyline points="428.75,303.00 428.75,400.00" fill="none" stroke="#000" stroke-width="2.0" stroke-linejoin="miter"/>
<polyline points="444.80,323.50 444.80,400.00" fill="none" stroke="#000" stroke-width="2.0" stroke-linejoin="miter"/>
<polyline points="479.60,263.00 479.60,400.00" fill="none" stroke="#000" stroke-width="2.0" stroke-linejoin="miter"/>
<polyline points="490.60,322.20 637.20,322.20" fill="none" stroke="#000" stroke-width="2.0" stroke-linejoin="miter"/>
<polyline points="479.60,294.40 490.60,322.20 480.00,369.40" fill="none" stroke="#000" stroke-width="2.0" stroke-linejoin="miter"/>
<polyline points="649.50,292.75 637.20,322.20 649.50,380.50" fill="none" stroke="#000" stroke-width="2.0" stroke-linejoin="miter"/>
<polyline points="649.50,263.75 649.50,400.00" fill="none" stroke="#000" stroke-width="2.0" stroke-linejoin="miter"/>
<polyline points="653.90,297.50 653.90,400.00" fill="none" stroke="#000" stroke-width="2.0" stroke-linejoin="miter"/>
<polyline points="661.75,300.60 661.75,400.00" fill="none" stroke="#000" stroke-width="2.0" stroke-linejoin="miter"/>
<polyline points="674.10,300.60 674.10,400.00" fill="none" stroke="#000" stroke-width="2.0" stroke-linejoin="miter"/>
<polyline points="684.75,294.00 684.75,400.00" fill="none" stroke="#000" stroke-width="2.0" stroke-linejoin="miter"/>
<polyline points="690.00,329.75 711.25,329.75" fill="none" stroke="#000" stroke-width="2.0" stroke-linejoin="miter"/>
<polyline points="684.75,296.00 690.00,329.75 684.75,374.50" fill="none" stroke="#000" stroke-width="2.0" stroke-linejoin="miter"/>
<polyline points="633.75,400.00 633.75,460.25" fill="none" stroke="#000" stroke-width="2.0" stroke-linejoin="miter"/>
<path d="M170.00,399.6 L183.75,399.6 M202.50,399.6 L223.60,399.6 M245.31,399.6 L266.41,399.6 M288.12,399.6 L309.22,399.6 M330.93,399.6 L352.03,399.6 M373.74,399.6 L394.84,399.6 M416.55,399.6 L437.65,399.6 M459.36,399.6 L480.46,399.6 M502.17,399.6 L523.27,399.6 M544.98,399.6 L566.08,399.6 M587.79,399.6 L608.89,399.6 M630.60,399.6 L651.70,399.6 M673.41,399.6 L694.51,399.6 M716.25,399.6 L727.50,399.6" stroke="#000" stroke-width="1.7" fill="none"/>
<polyline points="275.60,460.20 275.60,468.80" fill="none" stroke="#000" stroke-width="2.0" stroke-linejoin="miter"/>
<polyline points="585.50,475.00 585.50,480.25" fill="none" stroke="#000" stroke-width="2.0" stroke-linejoin="miter"/>
<clipPath id="vh1"><polygon points="388,352 414,352 412.7,357.8 401.8,373.8 390.9,357.8"/></clipPath>
<path clip-path="url(#vh1)" d="M394.50,354.60 L372.50,376.60 M399.00,354.60 L377.00,376.60 M403.50,354.60 L381.50,376.60 M408.00,354.60 L386.00,376.60 M412.50,354.60 L390.50,376.60" stroke="#000" stroke-width="1.4" fill="none"/>
<clipPath id="vh2"><polygon points="360,387.2 395,387.2 373.8,357.8 360,357.8"/></clipPath>
<path clip-path="url(#vh2)" d="M367.20,387.20 L392.20,362.20 M371.60,387.20 L396.60,362.20 M376.00,387.20 L401.00,362.20 M380.40,387.20 L405.40,362.20 M384.70,387.20 L409.70,362.20" stroke="#000" stroke-width="1.4" fill="none"/>
<polygon points="373.8,357.8 390.9,357.8 401.8,373.8 412.7,357.8 425.4,357.8 401.8,393.5" fill="#d0dad8" stroke="#000" stroke-width="2.0" stroke-linejoin="miter"/>
<line x1="294" y1="173" x2="264.6" y2="307.5" stroke="#0e7a5e" stroke-width="1.8"/>
<circle cx="264.6" cy="307.5" r="3.1" fill="none" stroke="#000" stroke-width="1.6"/>
<line x1="429" y1="181.5" x2="399" y2="313.25" stroke="#0e7a5e" stroke-width="1.8"/>
<circle cx="399" cy="313.25" r="3.1" fill="none" stroke="#000" stroke-width="1.6"/>
<line x1="556.5" y1="154.5" x2="527.5" y2="286.5" stroke="#0e7a5e" stroke-width="1.8"/>
<circle cx="527.5" cy="286.5" r="3.1" fill="none" stroke="#000" stroke-width="1.6"/>
<path d="M53.5,368.5 L53.5,450 M41.25,460.4 L183,460.4" stroke="#0e7a5e" stroke-width="1.6" fill="none"/>
<polygon points="53.50,460.25 48.90,443.75 58.10,443.75" fill="#0e7a5e"/>
<path d="M137.5,362 L137.5,438 M127.5,448.9 L328.5,448.9" stroke="#0e7a5e" stroke-width="1.6" fill="none"/>
<polygon points="137.50,448.90 132.80,432.90 142.20,432.90" fill="#0e7a5e"/>
<path d="M782,377 L782,464 M633.75,475.6 L792,475.6" stroke="#0e7a5e" stroke-width="1.6" fill="none"/>
<polygon points="782.00,475.60 777.70,458.10 786.30,458.10" fill="#0e7a5e"/>
<path d="M177.9,510 L177.9,699.7 M328.5,460.2 L328.5,630.4 M633.4,475.6 L633.4,699.5" stroke="#0e7a5e" stroke-width="1.6" fill="none"/>
<path d="M340,621 L622,621" stroke="#0e7a5e" stroke-width="1.6" fill="none"/>
<polygon points="328.50,621.00 345.50,616.30 345.50,625.70" fill="#0e7a5e"/>
<polygon points="633.40,621.00 616.40,616.30 616.40,625.70" fill="#0e7a5e"/>
<path d="M190,689.7 L622,689.7" stroke="#0e7a5e" stroke-width="1.6" fill="none"/>
<polygon points="177.90,689.70 195.40,685.20 195.40,694.20" fill="#0e7a5e"/>
<polygon points="633.40,689.50 616.40,684.80 616.40,694.20" fill="#0e7a5e"/>
<g transform="translate(287.00 128.50)"><path d="M16.50,3.69 C14.71,2.38 11.73,2.05 9.50,2.05 C5.03,2.05 2.50,5.34 2.50,10.27 C2.50,15.21 5.03,16.86 9.50,18.50 C13.97,20.15 16.80,22.45 16.80,26.72 C16.80,32.32 13.23,34.95 8.75,34.95 C6.22,34.95 3.54,33.96 2.05,32.32" fill="none" stroke="#231f20" stroke-width="4.1" stroke-linejoin="miter"/></g>
<g transform="translate(309.50 128.50)"><path d="M2.05,3.69 C4.08,2.54 7.12,2.05 9.99,2.05 C14.72,2.05 17.09,5.34 17.09,9.62 C17.09,15.21 13.04,17.84 7.96,17.84 L5.09,17.84 M7.96,17.84 C14.72,17.84 18.95,21.13 18.95,26.07 C18.95,31.66 15.57,34.95 10.50,34.95 C7.12,34.95 4.08,33.96 2.05,32.98" fill="none" stroke="#231f20" stroke-width="4.1" stroke-linejoin="miter"/></g>
<g transform="translate(423.50 128.50)"><path d="M16.99,3.69 C15.14,2.38 12.06,2.05 9.75,2.05 C5.13,2.05 2.51,5.34 2.51,10.27 C2.51,15.21 5.13,16.86 9.75,18.50 C14.37,20.15 17.30,22.45 17.30,26.72 C17.30,32.32 13.60,34.95 8.98,34.95 C6.36,34.95 3.59,33.96 2.05,32.32" fill="none" stroke="#231f20" stroke-width="4.1" stroke-linejoin="miter"/></g>
<g transform="translate(448.50 128.50)"><polygon fill="#231f20" points="7.30,0.00 12.00,0.00 12.00,37.00 7.30,37.00 7.30,4.07 2.40,9.99 0.00,6.47"/></g>
<g transform="translate(549.50 110.50)"><path d="M16.99,3.71 C15.14,2.38 12.06,2.05 9.75,2.05 C5.13,2.05 2.51,5.37 2.51,10.35 C2.51,15.33 5.13,16.99 9.75,18.65 C14.37,20.31 17.30,22.63 17.30,26.95 C17.30,32.59 13.60,35.25 8.98,35.25 C6.36,35.25 3.59,34.25 2.05,32.59" fill="none" stroke="#231f20" stroke-width="4.1" stroke-linejoin="miter"/></g>
<g transform="translate(572.50 110.50)"><path d="M2.05,5.01 C3.96,3.04 6.82,2.05 9.52,2.05 C14.77,2.05 17.79,6.00 17.79,11.26 C17.79,15.21 16.84,17.84 14.77,21.13 L2.37,34.95" fill="none" stroke="#231f20" stroke-width="4.1" stroke-linejoin="miter"/><rect x="0" y="33.10" width="20.00" height="3.9" fill="#231f20"/></g>
<g transform="translate(458.50 572.00)"><path fill="#231f20" d="M0,0 L4,0 L4,33.10 L17.00,33.10 L17.00,37.00 L0,37.00 Z"/></g>
<g transform="translate(477.50 572.00)"><path d="M2.05,5.01 C4.02,3.04 6.97,2.05 9.76,2.05 C15.17,2.05 18.29,6.00 18.29,11.26 C18.29,15.21 17.30,17.84 15.17,21.13 L2.38,34.95" fill="none" stroke="#231f20" stroke-width="4.1" stroke-linejoin="miter"/><rect x="0" y="33.10" width="20.50" height="3.9" fill="#231f20"/></g>
<g transform="translate(384.50 642.50)"><path fill="#231f20" d="M0,0 L4,0 L4,33.30 L17.00,33.30 L17.00,37.20 L0,37.20 Z"/></g>
<g transform="translate(406.00 642.90)"><polygon fill="#231f20" points="7.30,0.00 12.00,0.00 12.00,36.85 7.30,36.85 7.30,4.05 2.40,9.95 0.00,6.45"/></g>
<g transform="matrix(0 -1 1 0 8.00 438.50)"><path d="M2.05,2.05 L10.01,2.05 C18.37,2.05 21.95,9.83 21.95,18.25 C21.95,26.67 18.37,34.45 10.01,34.45 L2.05,34.45 Z" fill="none" stroke="#231f20" stroke-width="4.1" stroke-linejoin="miter"/></g>
<g transform="matrix(0 -1 1 0 8.00 410.00)"><path d="M2.05,4.97 C3.90,3.02 6.67,2.05 9.29,2.05 C14.37,2.05 17.30,5.94 17.30,11.12 C17.30,15.01 16.37,17.60 14.37,20.84 L2.36,34.45" fill="none" stroke="#231f20" stroke-width="4.1" stroke-linejoin="miter"/><rect x="0" y="32.60" width="19.50" height="3.9" fill="#231f20"/></g>
<g transform="matrix(0 -1 1 0 90.00 434.00)"><path d="M2.05,2.05 L10.01,2.05 C18.37,2.05 21.95,9.95 21.95,18.50 C21.95,27.05 18.37,34.95 10.01,34.95 L2.05,34.95 Z" fill="none" stroke="#231f20" stroke-width="4.1" stroke-linejoin="miter"/></g>
<g transform="matrix(0 -1 1 0 90.00 405.50)"><path d="M2.05,3.69 C3.90,2.54 6.67,2.05 9.29,2.05 C13.60,2.05 15.76,5.34 15.76,9.62 C15.76,15.21 12.06,17.84 7.44,17.84 L4.82,17.84 M7.44,17.84 C13.60,17.84 17.45,21.13 17.45,26.07 C17.45,31.66 14.37,34.95 9.75,34.95 C6.67,34.95 3.90,33.96 2.05,32.98" fill="none" stroke="#231f20" stroke-width="4.1" stroke-linejoin="miter"/></g>
<g transform="matrix(0 -1 1 0 733.00 448.00)"><path d="M2.05,2.05 L10.01,2.05 C18.37,2.05 21.95,10.04 21.95,18.70 C21.95,27.36 18.37,35.35 10.01,35.35 L2.05,35.35 Z" fill="none" stroke="#231f20" stroke-width="4.1" stroke-linejoin="miter"/></g>
<g transform="matrix(0 -1 1 0 733.00 418.00)"><polygon fill="#231f20" points="7.70,0.00 12.40,0.00 12.40,37.40 7.70,37.40 7.70,4.11 2.40,10.10 0.00,6.54"/></g>
</svg></body></html>
